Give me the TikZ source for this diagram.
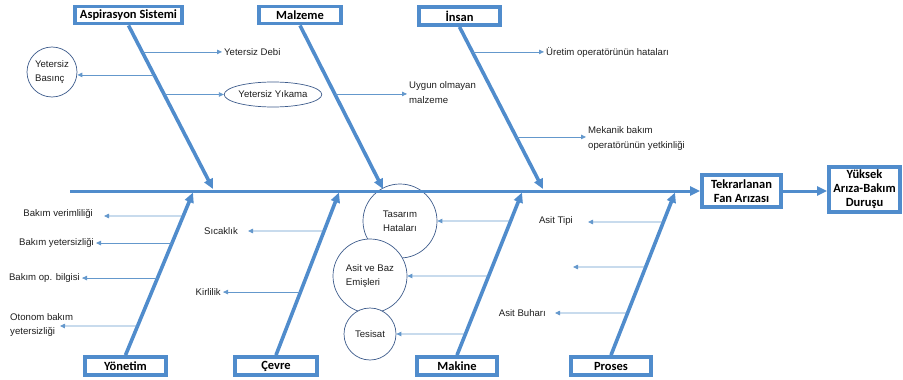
\documentclass[tikz,border=0pt]{standalone}
\usepackage{fontspec}
\setmainfont{Liberation Sans}
\newfontfamily\boxfont{Carlito}
\usetikzlibrary{arrows.meta,shapes.geometric,calc}
\definecolor{bonecol}{RGB}{80,140,204}
\definecolor{subcol}{RGB}{100,152,204}
\definecolor{ringcol}{RGB}{62,92,140}
\definecolor{txtcol}{RGB}{30,30,30}
\begin{document}
\begin{tikzpicture}[x=1pt,y=-1pt,
  catbox/.style={draw=bonecol,line width=3.8pt,fill=white,font=\boxfont\bfseries\fontsize{12.5}{14}\selectfont,text=black,inner sep=0pt,align=center},
  bone/.style={draw=bonecol,line width=3.6pt,-{Triangle[length=10pt,width=9pt]}},
  spinearrow/.style={draw=bonecol,line width=3pt,-{Triangle[length=10pt,width=9pt]}},
  sub/.style={draw=subcol,line width=0.8pt,-{Triangle[length=5pt,width=4.5pt]}},
  lbl/.style={font=\fontsize{9.6}{14.5}\selectfont,text=txtcol,inner sep=2pt,align=left},
  ring/.style={circle,draw=ringcol,line width=0.7pt,fill=white,font=\fontsize{9.6}{14}\selectfont,text=txtcol,inner sep=1pt,align=left},
  oval/.style={ellipse,draw=ringcol,line width=0.7pt,fill=white,font=\fontsize{9.6}{14}\selectfont,text=txtcol,inner sep=0pt}
]
\useasboundingbox (0,0) rectangle (903,380);

% circles and ellipse (drawn first)
\node[ring,minimum size=50pt] (basinc) at (52,72) {Yetersiz\\Basınç};
\node[oval,minimum width=80pt,minimum height=25pt] (yikama) at (273,94.5) {Yetersiz Yıkama};
\node[ring,minimum size=74pt,align=center] (tasarim) at (400,221) {Tasarım\\Hataları};
\node[ring,minimum size=74pt] (asitbaz) at (370,276) {Asit ve Baz\\Emişleri};
\node[ring,minimum size=52pt] (tesisat) at (370,334) {Tesisat};

% category boxes
\node[catbox,minimum width=107pt,minimum height=17pt] (asp) at (128.5,15) {Aspirasyon Sistemi};
\node[catbox,minimum width=82pt,minimum height=17pt] (mal) at (300,15) {Malzeme};
\node[catbox,minimum width=81pt,minimum height=18pt] (ins) at (459.5,16) {İnsan};
\node[catbox,minimum width=81pt,minimum height=18pt] (yon) at (125.5,366) {Yönetim};
\node[catbox,minimum width=82pt,minimum height=18pt] (cev) at (276,366) {Çevre};
\node[catbox,minimum width=80pt,minimum height=18pt] (mak) at (457,366) {Makine};
\node[catbox,minimum width=80pt,minimum height=18pt] (pro) at (611,366) {Proses};
\node[catbox,minimum width=79pt,minimum height=32pt] (tek) at (741.5,191) {Tekrarlanan\\Fan Arızası};
\node[catbox,minimum width=71pt,minimum height=45pt] (yuk) at (864.5,189.5) {Yüksek\\Arıza-Bakım\\Duruşu};

% spine
\coordinate (spinestart) at (70,191);
\draw[spinearrow] (spinestart) -- (tek.west);
\draw[spinearrow] (tek.east) -- (tek.east -| yuk.west);

% bone ends
\coordinate (aspend) at (213,189);
\coordinate (malend) at (383,189);
\coordinate (insend) at (543,189);
\coordinate (yonend) at (193,192.5);
\coordinate (cevend) at (339,192.5);
\coordinate (makend) at (522,192.5);
\coordinate (proend) at (675,192.5);

\draw[bone] (asp.south) -- (aspend);
\draw[bone] (mal.south) -- (malend);
\draw[bone] (ins.south) -- (insend);
\draw[bone] (yon.north) -- (yonend);
\draw[bone] (cev.north) -- (cevend);
\draw[bone] (mak.north) -- (makend);
\draw[bone] (pro.north) -- (proend);

% Aspirasyon Sistemi
\coordinate (a1) at ($(asp.south)!{(52-25.5)/163.5}!(aspend)$);
\coordinate (a2) at ($(asp.south)!{(75-25.5)/163.5}!(aspend)$);
\coordinate (a3) at ($(asp.south)!{(94.5-25.5)/163.5}!(aspend)$);
\node[lbl,anchor=west] (debi) at (222,52) {Yetersiz Debi};
\draw[sub] (a1) -- (a1 -| debi.west);
\draw[sub] (a2) -- (a2 -| basinc.east);
\draw[sub] (a3) -- (yikama.west);

% Malzeme
\coordinate (m1) at ($(mal.south)!{(94-25.5)/163.5}!(malend)$);
\node[lbl,anchor=west] (uygun) at (407,92.5) {Uygun olmayan\\ malzeme};
\draw[sub] (m1) -- (m1 -| uygun.west);

% Insan
\coordinate (i1) at ($(ins.south)!{(52-27)/162}!(insend)$);
\coordinate (i2) at ($(ins.south)!{(137-27)/162}!(insend)$);
\node[lbl,anchor=west] (uretim) at (544,52) {Üretim operatörünün hataları};
\node[lbl,anchor=west] (mekanik) at (586,138.5) {Mekanik bakım\\operatörünün yetkinliği};
\draw[sub] (i1) -- (i1 -| uretim.west);
\draw[sub] (i2) -- (i2 -| mekanik.west);

% Yonetim
\coordinate (y1) at ($(yon.north)!{(355-216)/162.5}!(yonend)$);
\coordinate (y2) at ($(yon.north)!{(355-243)/162.5}!(yonend)$);
\coordinate (y3) at ($(yon.north)!{(355-278)/162.5}!(yonend)$);
\coordinate (y4) at ($(yon.north)!{(355-326)/162.5}!(yonend)$);
\node[lbl,anchor=east] (verim) at (95,214) {Bakım verimliliği};
\node[lbl,anchor=east] (yeter) at (96,243) {Bakım yetersizliği};
\node[lbl,anchor=east] (opbilgi) at (82,278) {Bakım op. bilgisi};
\node[lbl,anchor=west] (otonom) at (8,325) {Otonom bakım\\yetersizliği};
\coordinate (verimtip) at (104,216);
\coordinate (otonomtip) at (60,326);
\draw[sub] (y1) -- (verimtip);
\draw[sub] (y2) -- (y2 -| yeter.east);
\draw[sub] (y3) -- (y3 -| opbilgi.east);
\draw[sub] (y4) -- (otonomtip);

% Cevre
\coordinate (c1) at ($(cev.north)!{(355-231)/162.5}!(cevend)$);
\coordinate (c2) at ($(cev.north)!{(355-292)/162.5}!(cevend)$);
\node[lbl,anchor=east] (sicak) at (240,231) {Sıcaklık};
\node[lbl,anchor=east] (kirli) at (223,292) {Kirlilik};
\coordinate (sicaktip) at (248,231);
\draw[sub] (c1) -- (sicaktip);
\draw[sub] (c2) -- (c2 -| kirli.east);

% Makine
\coordinate (k1) at ($(mak.north)!{(355-221)/162.5}!(makend)$);
\coordinate (k2) at ($(mak.north)!{(355-276)/162.5}!(makend)$);
\coordinate (k3) at ($(mak.north)!{(355-334)/162.5}!(makend)$);
\draw[sub] (k1) -- (tasarim.east);
\draw[sub] (k2) -- (asitbaz.east);
\draw[sub] (k3) -- (tesisat.east);

% Proses
\coordinate (p1) at ($(pro.north)!{(355-222)/162.5}!(proend)$);
\coordinate (p2) at ($(pro.north)!{(355-267)/162.5}!(proend)$);
\coordinate (p3) at ($(pro.north)!{(355-313)/162.5}!(proend)$);
\node[lbl,anchor=east] (asittipi) at (575,221) {Asit Tipi};
\node[lbl,anchor=east] (buhar) at (548,313) {Asit Buharı};
\coordinate (p1tip) at (588,222);
\coordinate (p2tip) at (573,267);
\coordinate (p3tip) at (555,313);
\draw[sub] (p1) -- (p1tip);
\draw[sub] (p2) -- (p2tip);
\draw[sub] (p3) -- (p3tip);
\end{tikzpicture}
\end{document}
